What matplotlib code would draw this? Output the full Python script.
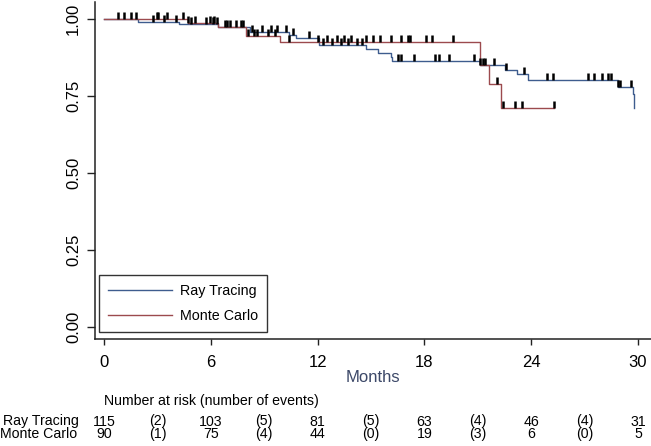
import numpy as np
import matplotlib
matplotlib.use("Agg")
import matplotlib.pyplot as plt
from matplotlib.path import Path
from matplotlib.transforms import blended_transform_factory

plt.rcParams['font.family'] = ['Liberation Sans', 'DejaVu Sans']

# Kaplan-Meier steps (months, survival)
rt_times = [0, 1.9, 4.2, 6.4, 8.2, 10.4, 10.8, 12.1, 14.7, 15.4, 16.1, 16.2,
            21.1, 22.5, 23.2, 23.8, 28.9, 29.7, 29.75, 29.8]
rt_surv = [1.0, 0.99, 0.982, 0.973, 0.956, 0.947, 0.938, 0.916, 0.902, 0.889,
           0.876, 0.864, 0.849, 0.834, 0.821, 0.801, 0.78, 0.755, 0.735, 0.71]
rt_end = 29.8

mc_times = [0, 4.7, 6.4, 8.0, 9.9, 21.1, 21.6, 22.3]
mc_surv = [1.0, 0.988, 0.975, 0.945, 0.924, 0.85, 0.788, 0.71]
mc_end = 25.3

# censoring ticks (months)
rt_cens = [0.8, 1.5, 2.75, 3.37, 4.04, 4.9, 5.7, 6.1, 6.35, 6.9, 7.4, 7.8, 8.3,
           8.9, 9.4, 9.7, 10.2, 10.6, 11.5, 12.3, 12.8, 13.3, 13.7, 14.2, 14.5,
           16.5, 16.7, 17.4, 18.6, 18.8, 19.4, 20.8, 21.3, 21.4, 21.9, 22.6,
           23.6, 24.9, 25.2, 27.2, 27.5, 28.0, 28.3, 28.5, 28.9, 29.0, 29.6]
mc_cens = [1.1, 1.8, 2.98, 3.03, 3.54, 4.45, 4.7, 5.1, 5.96, 6.2, 6.8, 7.1, 7.7,
           8.1, 8.4, 8.6, 9.2, 9.6, 10.4, 12.0, 12.5, 13.1, 13.5, 13.9, 14.7,
           15.1, 15.5, 16.1, 16.7, 17.1, 17.2, 18.1, 18.4, 19.6, 21.1, 22.1,
           22.4, 23.1, 23.5, 25.3]

# number at risk table
risk_months = [0, 6, 12, 18, 24, 30]
event_months = [3, 9, 15, 21, 27]
rt_risk = [115, 103, 81, 63, 46, 31]
rt_events = [2, 5, 5, 4, 4]
mc_risk = [90, 75, 44, 19, 6, 5]
mc_events = [1, 4, 0, 3, 0]

col_rt = '#3e5c8e'
col_mc = '#9c4a4e'


def nivel(times, surv, t):
    i = np.searchsorted(times, t, side='right') - 1
    return np.array(surv)[i]


fig = plt.figure(figsize=(6.51, 4.46), dpi=100)
ax = fig.add_axes([95 / 651, 107 / 446, 556 / 651, 337 / 446])

ax.step(rt_times + [rt_end], rt_surv + [rt_surv[-1]], where='post',
        color=col_rt, linewidth=1.0, label='Ray Tracing')
ax.step(mc_times + [mc_end], mc_surv + [mc_surv[-1]], where='post',
        color=col_mc, linewidth=1.0, label='Monte Carlo')

# marcas de censura (hacia arriba)
tick = Path([[0, 0], [0, 1]], [Path.MOVETO, Path.LINETO])
ax.plot(rt_cens, nivel(rt_times, rt_surv, rt_cens), linestyle='none',
        marker=tick, markersize=9.5, markeredgewidth=1.8, color='black')
ax.plot(mc_cens, nivel(mc_times, mc_surv, mc_cens), linestyle='none',
        marker=tick, markersize=9.5, markeredgewidth=1.8, color='black')

# ejes
ax.set_xlim(-0.51, 30.73)
ax.set_ylim(-0.039, 1.055)
ax.set_xticks(risk_months)
ax.set_yticks([0, 0.25, 0.5, 0.75, 1.0])
ax.set_yticklabels(['0.00', '0.25', '0.50', '0.75', '1.00'], rotation=90, va='center')
ax.spines['top'].set_visible(False)
ax.spines['right'].set_visible(False)
for s in ['left', 'bottom']:
    ax.spines[s].set_linewidth(1.1)
    ax.spines[s].set_color('#222222')
ax.tick_params(axis='x', direction='out', length=4.5, width=1, pad=7,
               labelsize=12, color='#222222')
ax.tick_params(axis='y', direction='out', length=6, width=1, pad=4,
               labelsize=12, color='#222222')
ax.set_xlabel('Months', fontsize=12, color='#3c4868', labelpad=0)

leg = ax.legend(loc='lower left', bbox_to_anchor=(99 / 651, 114 / 446),
                bbox_transform=fig.transFigure, fontsize=10.3, frameon=True,
                fancybox=False, edgecolor='black', handlelength=4.5,
                handletextpad=0.55, borderpad=0.6, labelspacing=0.8,
                borderaxespad=0)
leg.get_frame().set_linewidth(1.0)

# tabla de riesgo
tr = blended_transform_factory(ax.transData, fig.transFigure)
fs = 10.2
y_head = (446 - 405.5) / 446
y_rt = (446 - 425.5) / 446
y_mc = (446 - 438.0) / 446
ax.text(0.0, y_head, 'Number at risk (number of events)', transform=tr,
        ha='left', va='baseline', fontsize=fs)
fig.text(0.004, y_rt, 'Ray Tracing', ha='left', va='baseline', fontsize=fs)
fig.text(0.0, y_mc, 'Monte Carlo', ha='left', va='baseline', fontsize=fs)
for m, v in zip(risk_months, rt_risk):
    ax.text(m, y_rt, str(v), transform=tr, ha='center', va='baseline', fontsize=fs)
for m, v in zip(risk_months, mc_risk):
    ax.text(m, y_mc, str(v), transform=tr, ha='center', va='baseline', fontsize=fs)
for m, v in zip(event_months, rt_events):
    ax.text(m, y_rt, f'({v})', transform=tr, ha='center', va='baseline', fontsize=fs)
for m, v in zip(event_months, mc_events):
    ax.text(m, y_mc, f'({v})', transform=tr, ha='center', va='baseline', fontsize=fs)

fig.savefig('out.png', dpi=100)
